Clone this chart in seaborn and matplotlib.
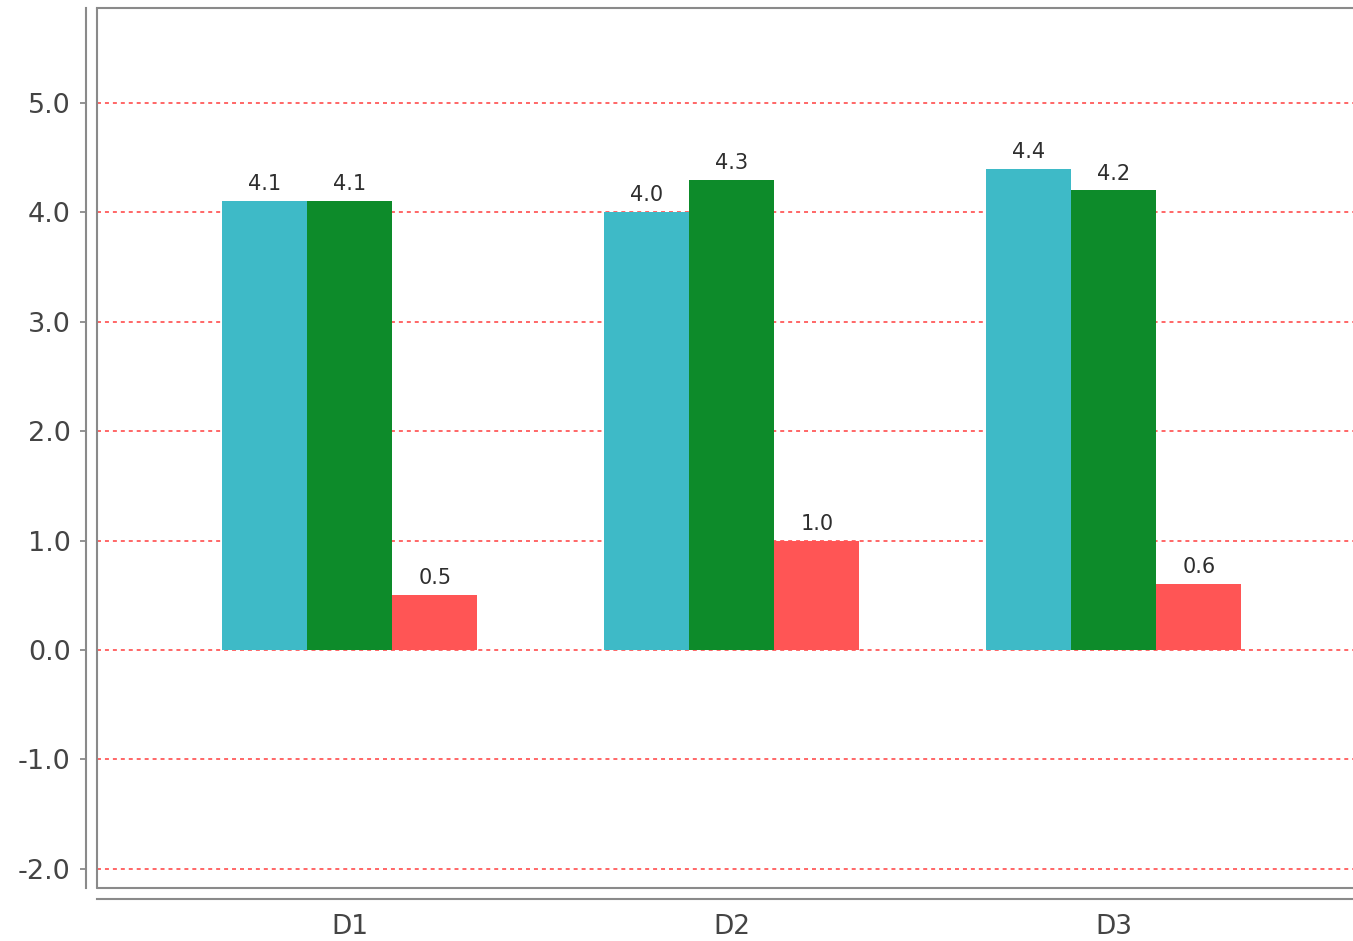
import matplotlib
matplotlib.use("Agg")
import matplotlib.pyplot as plt
import seaborn as sns
import pandas as pd
from matplotlib.lines import Line2D

categories = ["D1", "D2", "D3"]
series_names = ["Series 1", "Series 2", "Series 3"]
series1 = [4.1, 4.0, 4.4]
series2 = [4.1, 4.3, 4.2]
series3 = [0.5, 1.0, 0.6]
colors = ["#3EBAC7", "#0D8B2A", "#FF5555"]

rows = []
for name, vals in zip(series_names, [series1, series2, series3]):
    for c, v in zip(categories, vals):
        rows.append({"cat": c, "val": v, "series": name})
df = pd.DataFrame(rows)

sns.set_theme(style="white")
plt.rcParams["font.family"] = ["DejaVu Sans"]

fig = plt.figure(figsize=(13.53, 9.41), dpi=100)
ax = fig.add_axes([97/1353, 1 - 888/941, 1 - 97/1353, (888 - 8)/941])

sns.barplot(data=df, x="cat", y="val", hue="series", palette=colors,
            width=0.667, dodge=True, linewidth=0, saturation=1, ax=ax,
            errorbar=None, zorder=3)
if ax.legend_ is not None:
    ax.legend_.remove()

for cont in ax.containers:
    ax.bar_label(cont, fmt="%.1f", padding=5, fontsize=15, color="#2E2E2E")

ax.set_ylim(-2.175, 5.868)
ax.set_xlim(-0.662, 2.626)
ax.set_yticks([-2, -1, 0, 1, 2, 3, 4, 5])
ax.set_yticklabels([f"{v:.1f}" for v in [-2, -1, 0, 1, 2, 3, 4, 5]])
ax.yaxis.grid(True, color="#FF5A5A", linestyle=(0, (2.2, 2.2)), linewidth=1.3, zorder=0)
ax.set_axisbelow(True)
ax.set_xlabel("")
ax.set_ylabel("")

spine_col = "#8A8A8A"
ax.spines["right"].set_visible(False)
ax.spines["top"].set_color(spine_col)
ax.spines["top"].set_linewidth(1.5)
for s in ["left", "bottom"]:
    ax.spines[s].set_position(("outward", 10.5 * 72 / 100))
    ax.spines[s].set_color(spine_col)
    ax.spines[s].set_linewidth(1.5)

# inner box borders
ax.add_line(Line2D([0, 0], [0, 1], transform=ax.transAxes, color=spine_col,
                   linewidth=1.5, clip_on=False, zorder=5))
ax.add_line(Line2D([0, 1], [0, 0], transform=ax.transAxes, color=spine_col,
                   linewidth=1.5, clip_on=False, zorder=5))

ax.tick_params(axis="y", direction="out", length=4.5, width=1.3, color=spine_col,
               pad=7, labelsize=19.5, labelcolor="#444444", left=True)
ax.tick_params(axis="x", length=0, pad=11, labelsize=19, labelcolor="#444444")

fig.savefig("out.png", dpi=100)
